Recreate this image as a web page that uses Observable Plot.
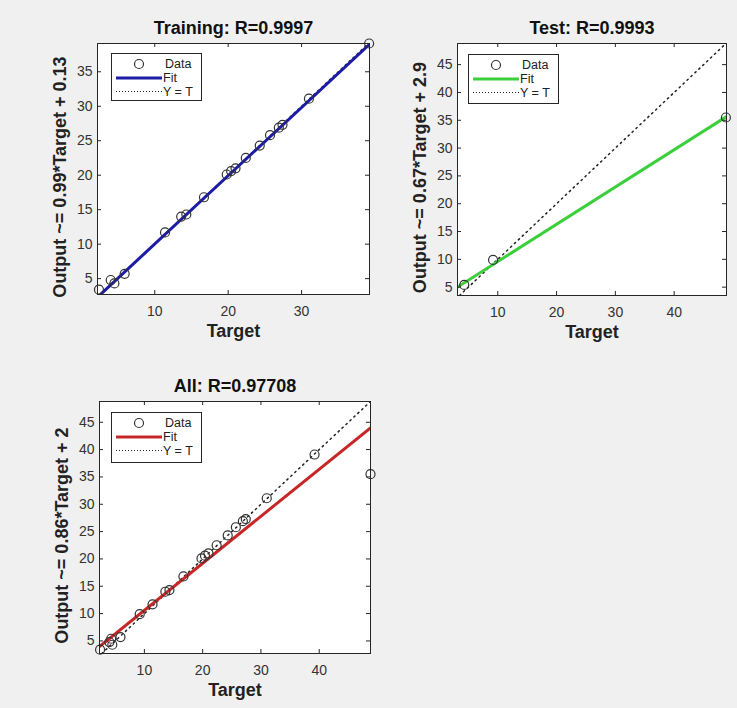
<!DOCTYPE html>
<html><head><meta charset="utf-8">
<script src="https://cdn.jsdelivr.net/npm/d3@7"></script>
<script src="https://cdn.jsdelivr.net/npm/@observablehq/plot@0.6"></script>
<style>
html,body{margin:0;padding:0;background:#f0f0f0;}
#root{position:relative;width:737px;height:708px;background:#f0f0f0;overflow:hidden;font-family:"Liberation Sans",Arial,Helvetica,sans-serif;}
.panel{position:absolute;}
.legend{position:absolute;}
</style></head><body><div id="root"></div>
<script>
// ---- data ----
const trainTarget = [2.4, 4.0, 4.5, 5.9, 11.4, 13.6, 14.3, 16.7, 19.8, 20.4, 21.0, 22.4, 24.3, 25.7, 26.9, 27.4, 31.0, 39.2];
const trainOutput = [3.4, 4.8, 4.3, 5.7, 11.7, 14.0, 14.3, 16.8, 20.1, 20.6, 21.0, 22.5, 24.3, 25.8, 26.9, 27.3, 31.1, 39.1];
const testTarget = [4.3, 9.2, 48.8];
const testOutput = [5.4, 9.9, 35.5];
const allTarget = trainTarget.concat(testTarget);
const allOutput = trainOutput.concat(testOutput);

const panelTitles = ["Training: R=0.9997", "Test: R=0.9993", "All: R=0.97708"];
const yLabels = ["Output ~= 0.99*Target + 0.13", "Output ~= 0.67*Target + 2.9", "Output ~= 0.86*Target + 2"];
const fitSlopes = [0.99, 0.67, 0.86];
const fitIntercepts = [0.13, 2.9, 2];
const fitColors = ["#1c1ca6", "#3ccf3c", "#c62828"];
const xDomains = [[2.2, 39.25], [3.15, 48.9], [2.3, 48.8]];
const yDomains = [[2.7, 39.1], [3.5, 48.8], [2.7, 48.8]];
const trainXTicks = [10, 20, 30];
const trainYTicks = [5, 10, 15, 20, 25, 30, 35];
const wideXTicks = [10, 20, 30, 40];
const wideYTicks = [5, 10, 15, 20, 25, 30, 35, 40, 45];
const legendLabels = ["Data", "Fit", "Y = T"];

const FONT = '"Liberation Sans", Arial, Helvetica, sans-serif';
const root = document.getElementById("root");

function makePanel(i, targets, outputs, xTicks, yTicks, box) {
  const {left, top, width, height, mL, mR, mT, mB} = box;
  const fw = width - mL - mR, fh = height - mT - mB;
  const pts = targets.map((t, k) => ({t, o: outputs[k]}));
  const lims = xDomains[i];
  const idLims = [Math.max(xDomains[i][0], yDomains[i][0]), Math.min(xDomains[i][1], yDomains[i][1])];
  const chart = Plot.plot({
    width, height, marginLeft: mL, marginRight: mR, marginTop: mT, marginBottom: mB,
    style: {background: "transparent", fontFamily: FONT, fontSize: "14px", color: "#333", overflow: "visible"},
    x: {domain: xDomains[i], nice: false},
    y: {domain: yDomains[i], nice: false},
    marks: [
      Plot.frame({fill: "white", stroke: "none"}),
      Plot.line(idLims, {x: d => d, y: d => d, stroke: "#222", strokeWidth: 1.5, strokeDasharray: "1.4 4", clip: true}),
      Plot.line(lims, {x: d => d, y: d => fitSlopes[i] * d + fitIntercepts[i], stroke: fitColors[i], strokeWidth: 3, clip: true}),
      Plot.dot(pts, {x: "t", y: "o", r: 4.5, stroke: "#333", strokeWidth: 1.2, fill: "none"}),
      Plot.tickX(xTicks, {x: d => d, insetTop: fh - 4, stroke: "#262626"}),
      Plot.tickX(xTicks, {x: d => d, insetBottom: fh - 4, stroke: "#262626"}),
      Plot.tickY(yTicks, {y: d => d, insetRight: fw - 4, stroke: "#262626"}),
      Plot.tickY(yTicks, {y: d => d, insetLeft: fw - 4, stroke: "#262626"}),
      Plot.axisX({ticks: xTicks, tickSize: 0, tickPadding: 12, label: null, tickFormat: d => String(d)}),
      Plot.axisY({ticks: yTicks, tickSize: 0, tickPadding: 5, label: null, tickFormat: d => String(d)}),
      Plot.frame({stroke: "#262626", strokeWidth: 1}),
      Plot.text([panelTitles[i]], {text: d => d, frameAnchor: "top", dy: -15, lineAnchor: "middle", textAnchor: "middle", fontWeight: "bold", fontSize: 18, fill: "#111"}),
      Plot.text(["Target"], {text: d => d, frameAnchor: "bottom", dy: 37, lineAnchor: "middle", textAnchor: "middle", fontWeight: "bold", fontSize: 18, fill: "#222"}),
      Plot.text([yLabels[i]], {text: d => d, frameAnchor: "left", dx: -37, dy: 8, rotate: -90, lineAnchor: "middle", textAnchor: "middle", fontWeight: "bold", fontSize: 18, fill: "#222"})
    ]
  });
  chart.classList.add("panel");
  chart.style.left = left + "px";
  chart.style.top = top + "px";
  root.appendChild(chart);
}

function makeLegend(i, left, top, w, h) {
  const ns = "http://www.w3.org/2000/svg";
  const svg = document.createElementNS(ns, "svg");
  svg.setAttribute("width", w); svg.setAttribute("height", h);
  svg.setAttribute("class", "legend");
  svg.style.left = left + "px"; svg.style.top = top + "px";
  const rows = [11, 25, 38.5];
  const parts = [
    `<rect x="0.5" y="0.5" width="${w - 1}" height="${h - 1}" fill="white" stroke="#262626"/>`,
    `<circle cx="28" cy="${rows[0]}" r="4.5" fill="none" stroke="#333" stroke-width="1.2"/>`,
    `<line x1="5" x2="51" y1="${rows[1]}" y2="${rows[1]}" stroke="${fitColors[i]}" stroke-width="3"/>`,
    `<line x1="5" x2="51" y1="${rows[2]}" y2="${rows[2]}" stroke="#222" stroke-width="1" stroke-dasharray="1 2"/>`
  ];
  const tx = [54, 52, 52];
  legendLabels.forEach((lab, k) => {
    parts.push(`<text x="${tx[k]}" y="${rows[k]}" dy="0.35em" font-family='${FONT}' font-size="12.5" fill="#222">${lab}</text>`);
  });
  svg.innerHTML = parts.join("");
  root.appendChild(svg);
}

makePanel(0, trainTarget, trainOutput, trainXTicks, trainYTicks,
  {left: 0, top: 0, width: 380, height: 345, mL: 97, mR: 11, mT: 43, mB: 51});
makePanel(1, testTarget, testOutput, wideXTicks, wideYTicks,
  {left: 380, top: 0, width: 357, height: 345, mL: 77, mR: 11, mT: 43, mB: 50});
makePanel(2, allTarget, allOutput, wideXTicks, wideYTicks,
  {left: 0, top: 355, width: 380, height: 353, mL: 99, mR: 10, mT: 46, mB: 55});

makeLegend(0, 111, 53, 91, 48);
makeLegend(1, 468, 54, 91, 50);
makeLegend(2, 111, 412, 91, 51);
</script></body></html>
